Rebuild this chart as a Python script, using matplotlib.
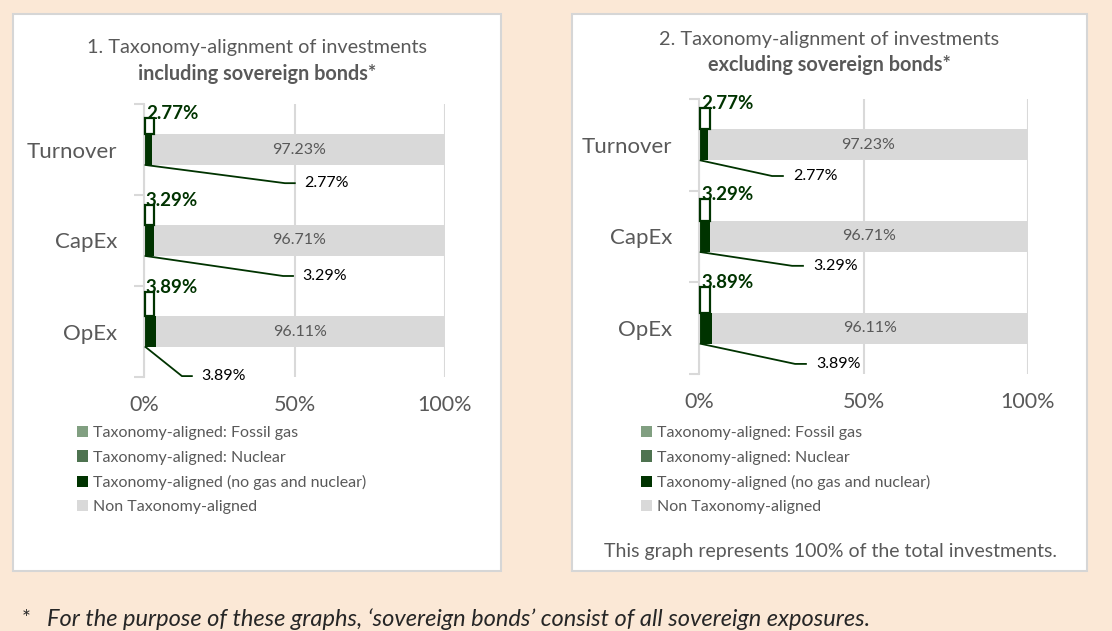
import matplotlib.pyplot as plt
from matplotlib.patches import Rectangle

plt.rcParams['font.family'] = ['Lato', 'DejaVu Sans']

# figure size in pixels
W, H = 1112, 631

# data
categories = ["Turnover", "CapEx", "OpEx"]
fossil_gas = [0.0, 0.0, 0.0]
nuclear = [0.0, 0.0, 0.0]
aligned_incl = [2.77, 3.29, 3.89]
non_aligned_incl = [97.23, 96.71, 96.11]
aligned_excl = [2.77, 3.29, 3.89]
non_aligned_excl = [97.23, 96.71, 96.11]
series_names = ["Taxonomy-aligned: Fossil gas", "Taxonomy-aligned: Nuclear",
                "Taxonomy-aligned (no gas and nuclear)", "Non Taxonomy-aligned"]
x_ticks = [0, 50, 100]
x_tick_labels = ["0%", "50%", "100%"]

# colours
BG = "#FBE8D6"
GAS = "#819F81"
NUC = "#4E7350"
DARK = "#003300"
LIGHT = "#D9D9D9"
GREY_TXT = "#595959"

BAR_H = 0.34


def px_axes(x0, y0, x1, y1):
    return fig.add_axes([x0 / W, 1 - y1 / H, (x1 - x0) / W, (y1 - y0) / H])


def panel(x0, y0, x1, y1):
    fig.add_artist(Rectangle((x0 / W, 1 - y1 / H), (x1 - x0) / W, (y1 - y0) / H,
                             transform=fig.transFigure, facecolor="white",
                             edgecolor="#D6D6D6", lw=1.5, zorder=0))


def draw_chart(ax, aligned, non_aligned, callout_h, leaders):
    y = list(range(len(categories)))
    b_gas = ax.barh(y, fossil_gas, height=BAR_H, color=GAS, label=series_names[0])
    b_nuc = ax.barh(y, nuclear, left=fossil_gas, height=BAR_H, color=NUC,
                    label=series_names[1])
    base = [g + n for g, n in zip(fossil_gas, nuclear)]
    b_al = ax.barh(y, aligned, left=base, height=BAR_H, color=DARK,
                   label=series_names[2])
    base2 = [b + a for b, a in zip(base, aligned)]
    b_non = ax.barh(y, non_aligned, left=base2, height=BAR_H, color=LIGHT,
                    label=series_names[3])

    for i in y:
        # label inside grey bar
        ax.text(base2[i] + non_aligned[i] / 2, i, f"{non_aligned[i]:.2f}%",
                ha="center", va="center", color=GREY_TXT, fontsize=11.5)
        # callout box above the bar with bold label
        top = i - BAR_H / 2
        ax.add_patch(Rectangle((0.3, top - callout_h[i]), 3.0, callout_h[i],
                               facecolor="white", edgecolor=DARK, lw=1.6,
                               clip_on=False, zorder=3))
        ax.text(0.6, top - callout_h[i] - 0.05, f"{aligned[i]:.2f}%",
                ha="left", va="center", color=DARK, fontsize=13.5,
                fontweight="bold", zorder=4)
        # leader line below the bar
        lx, ly = leaders[i]
        ax.plot([0.5, lx, lx + 3.3], [i + BAR_H / 2, i + ly, i + ly],
                color=DARK, lw=1.3, clip_on=False, zorder=3)
        ax.text(lx + 6.3, i + ly, f"{aligned[i]:.2f}%", ha="left",
                va="center", color="black", fontsize=11.5)

    ax.set_xlim(0, 100)
    ax.set_ylim(len(categories) - 0.5, -0.5)
    ax.set_xticks(x_ticks)
    ax.set_xticklabels(x_tick_labels)
    ax.set_yticks(y)
    ax.set_yticklabels(categories)
    ax.set_yticks([k - 0.5 for k in range(len(categories) + 1)], minor=True)
    ax.tick_params(axis="x", length=0, pad=13, labelsize=15.5, labelcolor=GREY_TXT)
    ax.tick_params(axis="y", which="major", length=0, pad=19, labelsize=16,
                   labelcolor=GREY_TXT)
    ax.tick_params(axis="y", which="minor", length=7, width=1.5, color=LIGHT)
    for s in ["top", "right", "bottom"]:
        ax.spines[s].set_visible(False)
    ax.spines["left"].set_color(LIGHT)
    ax.spines["left"].set_linewidth(1.5)
    ax.xaxis.grid(True, color=LIGHT, lw=1.5)
    ax.set_axisbelow(True)
    ax.set_facecolor("none")
    return [b_gas, b_nuc, b_al, b_non]


fig = plt.figure(figsize=(W / 100, H / 100), dpi=100, facecolor=BG)

panel(13, 14, 501, 571)
panel(572, 14, 1087, 571)

# left chart
ax1 = px_axes(144, 104, 445, 377)
h1 = draw_chart(ax1, aligned_incl, non_aligned_incl,
                [16 / 91, 20 / 91, 24 / 91],
                [(46.8, 0.37), (46.2, 0.39), (12.6, 0.49)])
fig.text(257 / W, 1 - 48 / H, "1. Taxonomy-alignment of investments",
         ha="center", va="center", fontsize=14.3, color=GREY_TXT)
fig.text(257 / W, 1 - 74 / H, "including sovereign bonds*",
         ha="center", va="center", fontsize=14.3, fontweight="bold", color=GREY_TXT)

# right chart
ax2 = px_axes(699, 99, 1028, 374)
h2 = draw_chart(ax2, aligned_excl, non_aligned_excl,
                [21 / 91, 22 / 91, 25 / 91],
                [(22.2, 0.34), (28.3, 0.32), (29.2, 0.39)])
fig.text(829 / W, 1 - 39 / H, "2. Taxonomy-alignment of investments",
         ha="center", va="center", fontsize=14.3, color=GREY_TXT)
fig.text(829 / W, 1 - 65 / H, "excluding sovereign bonds*",
         ha="center", va="center", fontsize=14.3, fontweight="bold", color=GREY_TXT)

# legends
for handles, xpx in [(h1, 77), (h2, 641)]:
    leg = fig.legend(handles=handles, loc="upper left",
                     bbox_to_anchor=(xpx / W, 1 - 426 / H), frameon=False,
                     fontsize=11.5, handlelength=0.7, handleheight=0.7,
                     handletextpad=0.3, labelspacing=0.64, borderpad=0,
                     borderaxespad=0)
    for t in leg.get_texts():
        t.set_color(GREY_TXT)

fig.text(831 / W, 1 - 551 / H, "This graph represents 100% of the total investments.",
         ha="center", va="center", fontsize=14, color=GREY_TXT)

# footnote
fig.text(22 / W, 1 - 619 / H, "*", ha="left", va="center", fontsize=15,
         color="#262626")
fig.text(47 / W, 1 - 619 / H,
         "For the purpose of these graphs, \u2018sovereign bonds\u2019 consist of all sovereign exposures.",
         ha="left", va="center", fontsize=17, style="italic", color="#262626")

fig.savefig("out.png", dpi=100, facecolor=BG)
